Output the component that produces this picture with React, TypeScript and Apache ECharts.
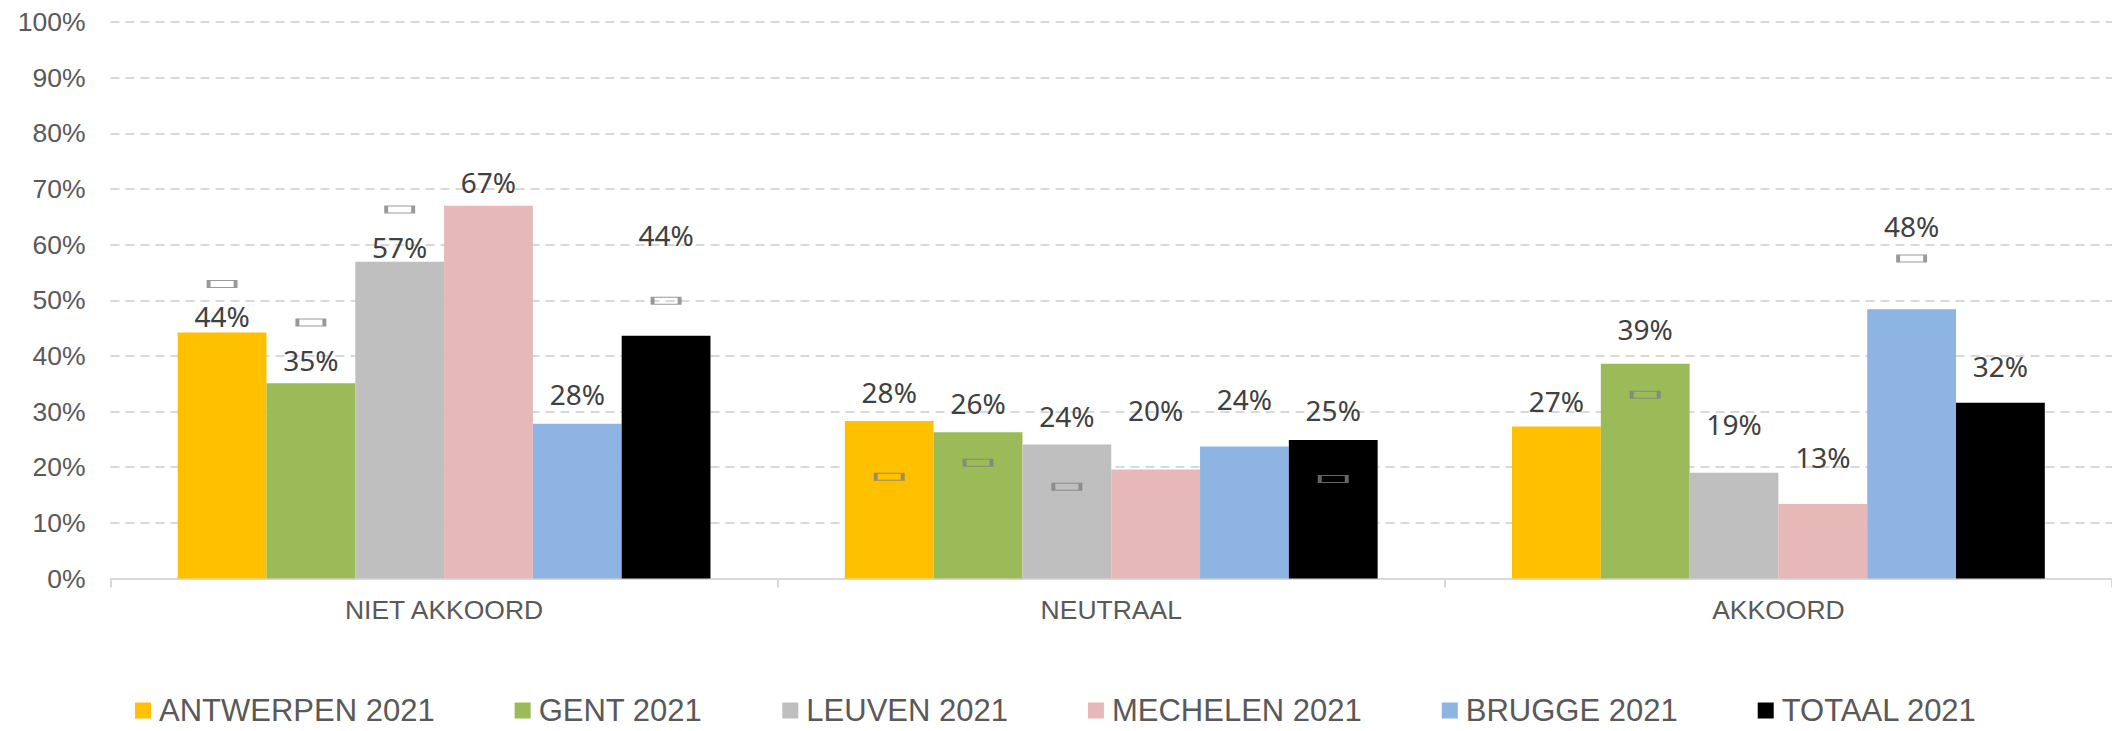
import React, { useEffect, useRef } from "react";
import * as echarts from "echarts";

const categories = ["NIET AKKOORD", "NEUTRAAL", "AKKOORD"];
const seriesNames = ["ANTWERPEN 2021", "GENT 2021", "LEUVEN 2021", "MECHELEN 2021", "BRUGGE 2021", "TOTAAL 2021"];
const seriesColors = ["#FFC000", "#9BBB59", "#BFBFBF", "#E6B9B8", "#8EB4E3", "#000000"];

// 2021 values (%)
const antwerpen2021 = [44.2, 28.3, 27.3];
const gent2021 = [35.1, 26.3, 38.6];
const leuven2021 = [56.9, 24.1, 19.0];
const mechelen2021 = [67.0, 19.6, 13.4];
const brugge2021 = [27.8, 23.7, 48.4];
const totaal2021 = [43.6, 24.9, 31.6];

// previous measurement markers (%), null = no marker
const antwerpenPrev = [52.9, 18.3, null];
const gentPrev = [46.0, 20.8, 33.0];
const leuvenPrev = [66.3, 16.5, null];
const mechelenPrev = [null, null, null];
const bruggePrev = [null, null, 57.5];
const totaalPrev = [49.9, 17.9, null];

const yTicks = [0, 10, 20, 30, 40, 50, 60, 70, 80, 90, 100];

// label lift above bar top (px, to label centre) — styling only
const labelLift = [
  [17, 29, 26],
  [23, 29, 35],
  [15, 28, 49],
  [24, 59, 47],
  [30, 48, 83],
  [101, 30, 37],
];

const values2021 = [antwerpen2021, gent2021, leuven2021, mechelen2021, brugge2021, totaal2021];
const valuesPrev = [antwerpenPrev, gentPrev, leuvenPrev, mechelenPrev, bruggePrev, totaalPrev];

const BAR_W = 88.8;
const LABEL_LH = 28;

export default function App() {
  const ref = useRef<HTMLDivElement>(null);
  useEffect(() => {
    if (!ref.current) return;
    const chart = echarts.init(ref.current, null, { renderer: "svg" });
    const barSeries = seriesNames.map((name, i) => ({
      name,
      type: "bar",
      barWidth: BAR_W,
      barGap: "0%",
      itemStyle: { color: seriesColors[i] },
      z: 2,
      data: values2021[i].map((v, j) => ({
        value: v,
        label: { distance: Math.max(0, labelLift[i][j] - LABEL_LH / 2) },
      })),
      label: {
        show: true,
        position: "top",
        fontFamily: "Noto Sans",
        fontSize: 28,
        lineHeight: LABEL_LH,
        color: "#404040",
        formatter: (p: any) => Math.round(p.value) + "%",
      },
    }));
    const markerSeries = seriesNames.map((name, i) => ({
      name: name.replace("2021", "vorige meting"),
      type: "scatter",
      symbol: "rect",
      symbolSize: [27, 7],
      symbolOffset: [(i - 2.5) * BAR_W, 0],
      itemStyle: { color: "rgba(0,0,0,0)", borderColor: "#7F7F7F", borderWidth: 2 },
      z: 5,
      silent: true,
      data: valuesPrev[i].map((v) => (v === null ? "-" : v)),
    }));
    chart.setOption({
      animation: false,
      grid: { left: 110.5, top: 22, width: 2004, height: 556.5, containLabel: false },
      legend: {
        data: seriesNames,
        left: 135,
        top: 695,
        padding: 0,
        icon: "rect",
        itemWidth: 16,
        itemHeight: 16,
        itemGap: 80,
        textStyle: { fontFamily: "Liberation Sans", fontSize: 31, lineHeight: 31, color: "#595959", padding: [0, 0, 0, 3] },
      },
      xAxis: {
        type: "category",
        data: categories,
        axisLine: { lineStyle: { color: "#D9D9D9", width: 2 } },
        axisTick: { show: true, length: 9, lineStyle: { color: "#D9D9D9", width: 2 } },
        axisLabel: { margin: 18, fontFamily: "Liberation Sans", fontSize: 26.5, color: "#595959" },
      },
      yAxis: {
        type: "value",
        min: yTicks[0],
        max: yTicks[yTicks.length - 1],
        interval: yTicks[1] - yTicks[0],
        axisLine: { show: false },
        axisTick: { show: false },
        axisLabel: { margin: 25, fontFamily: "Liberation Sans", fontSize: 26.5, color: "#595959", formatter: "{value}%" },
        splitLine: { lineStyle: { color: "#D9D9D9", width: 2, type: [9, 6] } },
      },
      series: [...barSeries, ...markerSeries],
    });
    return () => chart.dispose();
  }, []);
  return <div ref={ref} style={{ position: "absolute", left: 0, top: 0, width: "2112px", height: "731px" }} />;
}
